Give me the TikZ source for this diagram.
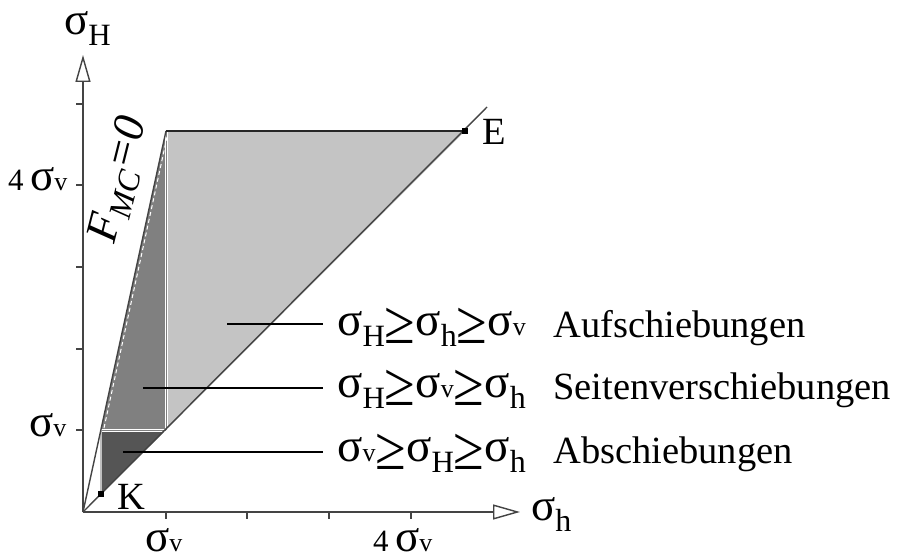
\documentclass[tikz,border=0pt]{standalone}
\usepackage{fontspec}
\setmainfont{Liberation Serif}
\usepackage{graphicx}
\usetikzlibrary{arrows.meta}
\definecolor{axcol}{HTML}{444444}
\definecolor{darkfill}{HTML}{555555}
\definecolor{midfill}{HTML}{808080}
\definecolor{lightfill}{HTML}{C4C4C4}
\newcommand\sg{{\fontsize{47}{47}\selectfont σ}}
\newcommand\sga{{\fontsize{45}{45}\selectfont σ}}
\newcommand\subH{\raisebox{-11pt}{\fontsize{31}{31}\selectfont H}}
\newcommand\subh{\raisebox{-11pt}{\fontsize{32}{32}\selectfont h}}
\newcommand\subv{{\fontsize{26}{26}\selectfont v}}
\newcommand\geqsym{\raisebox{-8pt}{\scalebox{1.45}[1.6]{≥}}}
\newcommand\four{{\fontsize{31}{31}\selectfont 4}}
\tikzset{
  axisline/.style={draw=axcol, line width=1.4pt},
  ticklen/.style={draw=axcol, line width=1.2pt},
  lab/.style={inner sep=0pt, anchor=base west, font=\fontsize{38.5}{38.5}\selectfont},
  leader/.style={draw=black, line width=1.5pt},
  marker/.style={fill=black, minimum size=6pt, inner sep=0pt, rectangle},
  border/.style={draw=white, line width=3pt},
  arrowhd/.style={-{Triangle[open, length=27pt, width=15pt]}}
}
\begin{document}
\begin{tikzpicture}[x=1pt, y=-1pt]
\useasboundingbox[fill=white] (0,0) rectangle (899,559);
% key points
\coordinate (O) at (83,512);
\coordinate (K) at (101,494);
\coordinate (A) at (101,430);
\coordinate (B) at (166,430);
\coordinate (C) at (166,131);
\coordinate (E) at (465,131);
\coordinate (Dend) at (487,107);
\coordinate (Ytop) at (83,55);
\coordinate (Xend) at (520,512);
% regions
\fill[lightfill] (B) -- (C) -- (E) -- cycle;
\fill[midfill] (A) -- (B) -- (C) -- cycle;
\fill[darkfill] (K) -- (A) -- (B) -- cycle;
% separators
\draw[border] (A) -- (B);
\draw[border] (B) -- (C);
\draw[draw=gray, line width=0.6pt] (A) -- (B);
\draw[draw=gray, line width=0.6pt] (B) -- (C);
\draw[draw=white, line width=1pt, dash pattern=on 4pt off 3pt] (104,428) -- (167,137);
\draw[draw=lightgray, line width=1.2pt] (K) -- (A);
% outline lines
\draw[draw=axcol, line width=1.4pt] (O) -- (C);
\draw[draw=axcol, line width=1.4pt] (O) -- (Dend);
\draw[draw=black!85, line width=1.5pt] (C) -- (E);
% axes
\draw[axisline, arrowhd] (O) -- (Ytop);
\draw[axisline, arrowhd] (O) -- (Xend);
\foreach \yy in {430,349,267,185,104} \draw[ticklen] (76,\yy) -- (83,\yy);
\foreach \xx in {166,247,329,411} \draw[ticklen] (\xx,512) -- (\xx,519);
% markers
\node[marker] (Km) at (K) {};
\node[marker] (Em) at (E) {};
\node[lab] (Klab) at (117,509) {K};
\node[lab] (Elab) at (482,145) {E};
% axis labels
\node[lab] (yax) at (64,35) {\sga\subH};
\node[lab] (xax) at (531,520) {\sga\subh};
\node[lab] (y4) at (8,190) {\four\,\sga\subv};
\node[lab] (y1) at (29,436) {\sga\subv};
\node[lab] (x1) at (145,551) {\sga\subv};
\node[lab] (x4) at (373,551) {\four\,\sga\subv};
% F_MC line label
\node[inner sep=0pt, rotate=76, font=\fontsize{45}{45}\selectfont\itshape] (fmc) at (120,180) {F\raisebox{-9pt}{\fontsize{32}{32}\selectfont MC}=0};
% regime labels
\node[lab] (f1) at (337,335) {\sg\subH\geqsym\sg\subh\geqsym\sg\subv};
\node[lab] (f2) at (337,397) {\sg\subH\geqsym\sg\subv\geqsym\sg\subh};
\node[lab] (f3) at (337,461) {\sg\subv\geqsym\sg\subH\geqsym\sg\subh};
\node[lab] (w1) at (553,337) {Aufschiebungen};
\node[lab] (w2) at (553,399) {Seitenverschiebungen};
\node[lab] (w3) at (553,463) {Abschiebungen};
% leaders
\coordinate (p1) at (227,324); \coordinate (q1) at (323,324);
\coordinate (p2) at (143,388); \coordinate (q2) at (323,388);
\coordinate (p3) at (123,452); \coordinate (q3) at (323,452);
\draw[leader] (p1) -- (q1);
\draw[leader] (p2) -- (q2);
\draw[leader] (p3) -- (q3);
\end{tikzpicture}
\end{document}
